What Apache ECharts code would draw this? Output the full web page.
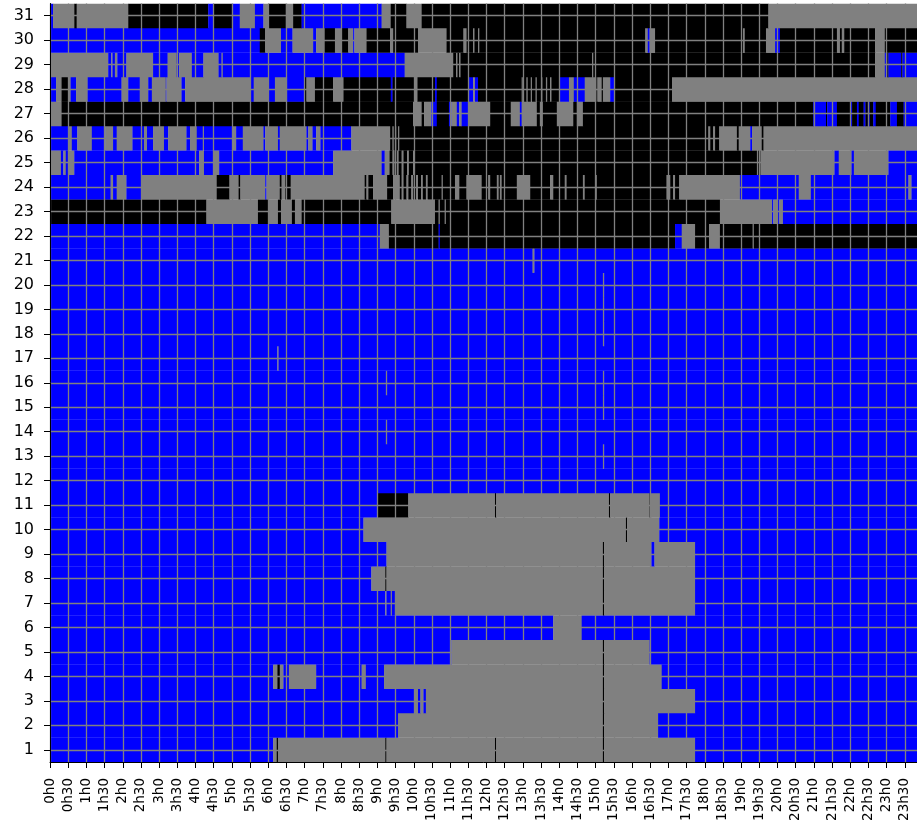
<!DOCTYPE html>
<html><head><meta charset="utf-8">
<script src="https://cdn.jsdelivr.net/npm/echarts@6/dist/echarts.min.js"></script>
<style>html,body{margin:0;padding:0;background:#fff}#c{width:917px;height:830px}</style>
</head><body><div id="c"></div>
<script>
// y categories: days of the month
const days = [1,2,3,4,5,6,7,8,9,10,11,12,13,14,15,16,17,18,19,20,21,22,23,24,25,26,27,28,29,30,31];
// x tick labels, every 30 minutes
const timeLabels = ['0h0','0h30','1h0','1h30','2h0','2h30','3h0','3h30','4h0','4h30','5h0','5h30','6h0','6h30','7h0','7h30','8h0','8h30','9h0','9h30','10h0','10h30','11h0','11h30','12h0','12h30','13h0','13h30','14h0','14h30','15h0','15h30','16h0','16h30','17h0','17h30','18h0','18h30','19h0','19h30','20h0','20h30','21h0','21h30','22h0','22h30','23h0','23h30'];
// states: B = blue, G = gray, K = black
const stateCodes = ['B','G','K'];
const stateColors = ['#0000ff','#808080','#000000'];
// per day: "startMinute+state" runs (each run lasts until the next start, last until 1440)
const dayRuns = [
 "0B 368G 374K 376G 553K 555G 734K 736G 912K 914G 1064B",
 "0B 574G 912K 914G 1003B",
 "0B 602G 607B 611G 616B 620G 912K 914G 1064B",
 "0B 368G 375K 379G 385B 394G 439B 514G 521B 551G 912K 914G 1009B",
 "0B 662G 912K 914G 989B",
 "0B 830G 877B",
 "0B 553G 555B 562G 564B 569G 912K 914G 1064B",
 "0B 530G 553K 555G 912K 914G 1064B",
 "0B 555G 912K 914G 992B 997G 1064B",
 "0B 517G 950K 952G 1005B",
 "0B 541K 591G 734K 736G 922K 924G 989K 991G 1006B",
 "0B",
 "0B 912G 914B",
 "0B 554G 556B",
 "0B 912G 914B",
 "0B 554G 556B 912G 914B",
 "0B 375G 377B",
 "0B 912G 914B",
 "0B 912G 914B",
 "0B 912G 914B",
 "0B 796G 799B",
 "0B 544G 559K 641B 643K 1031B 1042G 1064K 1087G 1105K 1159G 1161K",
 "0K 258G 343K 360G 376K 381G 399K 404G 415K 563G 635K 641G 643K 651G 653K 1105G 1191B 1193G 1200B 1203G 1209B",
 "0B 100G 104B 110G 126B 151G 275K 296G 311K 314G 355B 357G 379K 382G 388K 397G 519K 522G 525K 533G 556K 566G 577K 580G 583K 588G 591K 596G 599K 604G 607K 612G 615K 620G 623K 646G 648K 668G 675K 687G 712K 723G 726K 737G 740K 742G 745K 770G 792K 825G 830K 849G 852K 879G 882K 899G 902K 1017G 1023K 1028G 1031K 1038G 1138B 1235G 1255B 1416G 1421B",
 "0G 18B 22G 26B 30G 40B 246G 254B 269G 279B 467G 547B 552G 560K 565G 568K 572G 575K 580G 583K 589G 592K 599G 601K 1166G 1168K 1172G 1294B 1301G 1322B 1326G 1383B",
 "0B 30G 36B 45G 69B 91G 104B 110G 136B 155G 160B 170G 188B 195G 225B 231G 242B 252G 254B 302G 307B 318G 352B 355G 376B 379G 423B 426G 433B 439G 446B 497G 561K 565G 567K 569G 571K 574G 576K 1086G 1089K 1094G 1097K 1104G 1133K 1136G 1155B 1158G 1174K 1177G",
 "0G 19K 599G 613K 617G 629B 638K 658B 662G 671B 675G 679B 690G 726K 760G 775B 778G 803K 808G 813K 836G 863K 869G 879K 1259B 1280K 1282B 1298K 1320B 1323K 1331B 1334K 1342B 1345K 1349B 1352K 1358B 1362K 1386B 1397K 1408B",
 "0B 10G 19K 30G 34B 43G 62B 118G 129B 148G 162B 168G 191B 192G 217B 223G 330B 336G 360B 371G 391B 420K 423G 437K 467G 484K 562B 565K 601G 606K 635B 638K 690B 698G 701B 706K 778G 780K 786G 788K 793G 795K 801G 803K 810G 812K 818G 820K 825G 827K 840B 856G 864B 882G 901K 903G 910K 912G 924B 932K 1026G",
 "0G 96B 101G 103B 107G 111B 126G 170B 194G 209B 213G 234B 253G 278B 283G 285B 585G 665K 670G 672K 675G 677K 894G 896K 1361G 1377B 1381K 1383B 1404K 1406B",
 "0B 346K 355G 381B 400G 434B 439G 453K 470G 481K 492G 500B 502G 522K 561G 566K 607G 654K 682G 687K 698G 700K 706G 708K 982G 986B 989G 998K 1143G 1146K 1181G 1196B 1204K 1298G 1303K 1306G 1310K 1361G 1377K",
 "0B 5G 40K 44G 129K 261B 270K 300B 313G 338B 352G 360K 389G 401K 415B 547G 562K 588G 613K 1185G"
];
const dayLength = 1440;

const data = [];
dayRuns.forEach((s, i) => {
  const toks = s.trim().split(/\s+/).map(t => [parseFloat(t), stateCodes.indexOf(t.slice(-1))]);
  toks.forEach((t, j) => {
    const end = j + 1 < toks.length ? toks[j + 1][0] : dayLength;
    data.push([t[0], end, days[i], t[1]]);
  });
});

const chart = echarts.init(document.getElementById('c'), null, {renderer: 'canvas'});
chart.setOption({
  backgroundColor: '#ffffff',
  animation: false,
  grid: {left: 50, top: 3.5, width: 873, height: 758.5, outerBoundsMode: 'none', containLabel: false},
  xAxis: {
    type: 'value', min: 0, max: dayLength, interval: 30, z: 5,
    axisLine: {show: true, onZero: false, lineStyle: {color: '#000', width: 1}},
    axisTick: {show: true, length: 6, lineStyle: {color: '#000', width: 1}},
    axisLabel: {rotate: 90, margin: 16, fontSize: 13.5, color: '#000', fontFamily: 'DejaVu Sans',
      formatter: v => (timeLabels[Math.round(v / 30)] || ''), showMaxLabel: false},
    splitLine: {show: true, lineStyle: {color: '#808080', width: 1.3}}
  },
  yAxis: {
    type: 'value', min: 0.5, max: 31.5, z: 5,
    axisLine: {show: true, onZero: false, lineStyle: {color: '#000', width: 1}},
    axisTick: {show: true, length: 6, customValues: days, lineStyle: {color: '#000', width: 1}},
    axisLabel: {customValues: days, margin: 16, fontSize: 16, color: '#000', fontFamily: 'DejaVu Sans'},
    splitLine: {show: true, lineStyle: {color: '#808080', width: 1.3}}
  },
  series: [{
    type: 'custom', clip: true, z: 2,
    encode: {x: [0, 1], y: 2},
    data: data,
    renderItem: function (params, api) {
      const s = api.value(0), e = api.value(1), d = api.value(2);
      const st = data[params.dataIndex][3];
      const p0 = api.coord([s, d]);
      const p1 = api.coord([e, d]);
      const h = api.size([0, 1])[1];
      return {
        type: 'rect',
        shape: {x: p0[0], y: p0[1] - h / 2, width: p1[0] - p0[0] + 0.3, height: h + 0.3},
        style: {fill: stateColors[st]}
      };
    }
  }]
});
</script>
</body></html>
